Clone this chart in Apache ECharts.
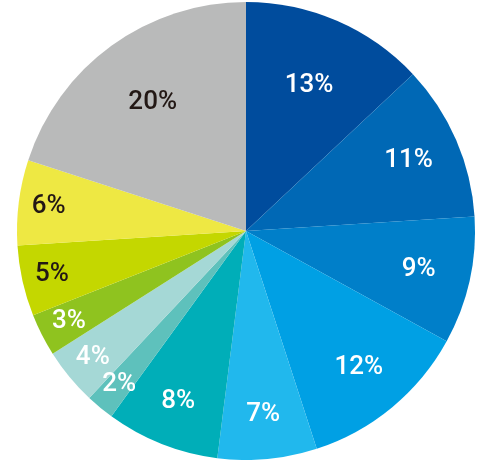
<!DOCTYPE html>
<html><head><meta charset="utf-8">
<script src="https://cdn.jsdelivr.net/npm/echarts@6/dist/echarts.min.js"></script>
<style>html,body{margin:0;padding:0;background:#fff}#c{width:491px;height:460px}</style>
</head><body><div id="c"></div>
<script>
const values = [13, 11, 9, 12, 7, 8, 2, 4, 3, 5, 6, 20];
const labels = ['13%', '11%', '9%', '12%', '7%', '8%', '2%', '4%', '3%', '5%', '6%', '20%'];
const colors = ['#004c9d', '#0068b5', '#007fc9', '#00a0e4', '#21b8ed', '#00aeb8', '#5ec1bc', '#a5d8d6', '#8fc31f', '#c4d700', '#eee843', '#b9baba'];
const textColors = ['#fff', '#fff', '#fff', '#fff', '#fff', '#fff', '#fff', '#fff', '#fff', '#231815', '#231815', '#231815'];

const C = [246, 231], R = 229;
// label ring tiers by slice size
const tiers = [
  {test: v => v >= 13, mid: 0.68},
  {test: v => v >= 9 && v < 13, mid: 0.76},
  {test: v => v >= 7 && v < 9, mid: 0.79},
  {test: v => v < 7, mid: 0.855}
];
const series = [{
  type: 'pie', center: C, radius: [0, R], startAngle: 90, clockwise: true,
  silent: true, animation: false, label: {show: false}, labelLine: {show: false},
  data: values.map((v, i) => ({value: v, itemStyle: {color: colors[i]}}))
}];
tiers.forEach(t => {
  const r0 = (2 * t.mid - 1) * R;
  series.push({
    type: 'pie', center: C, radius: [r0, R], startAngle: 90, clockwise: true,
    silent: true, animation: false, labelLine: {show: false},
    avoidLabelOverlap: false, labelLayout: {hideOverlap: false},
    itemStyle: {color: 'rgba(0,0,0,0)'},
    data: values.map((v, i) => ({
      value: v,
      label: {
        show: t.test(v), position: 'inside', formatter: labels[i],
        color: textColors[i], fontSize: 26, fontFamily: 'Roboto, "Liberation Sans", Arial, sans-serif',
        fontWeight: 500
      }
    }))
  });
});
const chart = echarts.init(document.getElementById('c'));
chart.setOption({animation: false, series});
</script></body></html>
